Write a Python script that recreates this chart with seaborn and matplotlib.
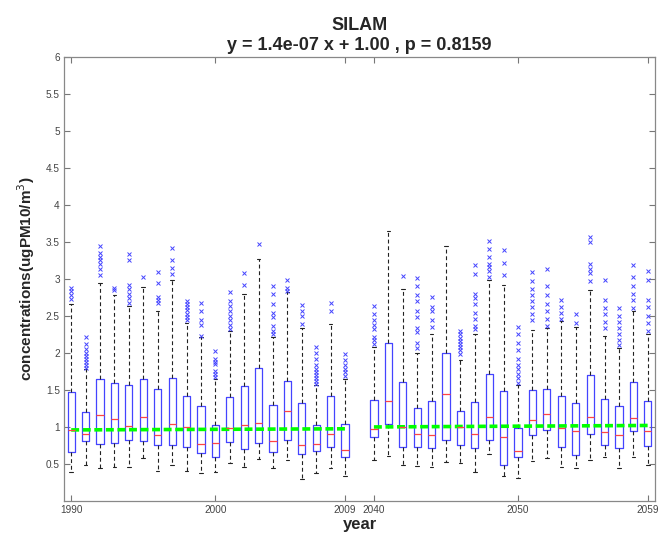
import numpy as np
import matplotlib
matplotlib.use('Agg')
import matplotlib.pyplot as plt
import seaborn as sns

# years shown (two periods, with a gap between them)
years_hist = list(range(1990, 2010))
years_fut = list(range(2040, 2060))
years = years_hist + years_fut

# box statistics (ugPM10/m3)
whis_hi = [2.66, 1.78, 2.94, 2.78, 2.64, 2.89, 2.57, 2.98, 2.40, 2.21,
           1.65, 2.29, 2.80, 3.27, 2.22, 2.82, 2.33, 1.57, 2.39, 1.65,
           2.08, 3.65, 2.86, 2.00, 2.26, 3.45, 1.90, 2.26, 2.99, 2.92,
           1.56, 2.31, 2.34, 2.43, 2.35, 2.85, 2.23, 2.06, 2.57, 2.26]
q3 = [1.47, 1.20, 1.65, 1.60, 1.56, 1.65, 1.51, 1.66, 1.42, 1.28,
      1.02, 1.40, 1.55, 1.79, 1.29, 1.62, 1.32, 1.03, 1.42, 1.04,
      1.37, 2.14, 1.61, 1.25, 1.35, 2.00, 1.22, 1.34, 1.71, 1.48,
      0.98, 1.50, 1.51, 1.42, 1.32, 1.70, 1.38, 1.28, 1.61, 1.35]
med = [0.955, 0.90, 1.16, 1.11, 1.01, 1.13, 0.89, 1.04, 1.00, 0.77,
       0.79, 0.99, 1.02, 1.06, 0.81, 1.22, 0.76, 0.77, 0.90, 0.69,
       0.97, 1.35, 1.00, 0.91, 0.89, 1.45, 1.00, 0.91, 1.14, 0.86,
       0.67, 1.10, 1.17, 0.99, 0.94, 1.14, 0.93, 0.89, 1.12, 0.95]
q1 = [0.66, 0.81, 0.77, 0.78, 0.82, 0.81, 0.75, 0.76, 0.73, 0.65,
      0.60, 0.80, 0.70, 0.78, 0.66, 0.82, 0.63, 0.68, 0.73, 0.60,
      0.86, 1.04, 0.73, 0.73, 0.71, 0.83, 0.76, 0.71, 0.83, 0.48,
      0.60, 0.89, 0.96, 0.73, 0.62, 0.90, 0.75, 0.71, 0.95, 0.74]
whis_lo = [0.39, 0.49, 0.44, 0.46, 0.46, 0.58, 0.40, 0.48, 0.41, 0.38,
           0.39, 0.51, 0.46, 0.57, 0.44, 0.55, 0.30, 0.38, 0.45, 0.34,
           0.56, 0.61, 0.49, 0.47, 0.46, 0.52, 0.51, 0.39, 0.63, 0.34,
           0.31, 0.54, 0.58, 0.46, 0.44, 0.56, 0.59, 0.45, 0.60, 0.49]
outliers = [
    [2.73, 2.78, 2.84, 2.87],
    [1.80, 1.84, 1.88, 1.92, 1.96, 2.00, 2.05, 2.12, 2.21],
    [3.05, 3.13, 3.20, 3.25, 3.30, 3.35, 3.45],
    [2.85, 2.88],
    [2.68, 2.74, 2.80, 2.86, 2.92, 3.26, 3.34],
    [3.03],
    [2.68, 2.72, 2.76, 2.95, 3.09],
    [3.07, 3.14, 3.26, 3.41],
    [2.44, 2.48, 2.52, 2.58, 2.62, 2.66, 2.70],
    [2.23, 2.38, 2.44, 2.56, 2.68],
    [1.67, 1.72, 1.75, 1.85, 1.88, 1.92, 2.02],
    [2.32, 2.38, 2.45, 2.50, 2.56, 2.63, 2.70, 2.82],
    [2.92, 3.08],
    [3.47],
    [2.26, 2.30, 2.36, 2.48, 2.54, 2.66, 2.80, 2.91],
    [2.84, 2.88, 2.98],
    [2.39, 2.50, 2.57, 2.65],
    [1.58, 1.62, 1.66, 1.70, 1.74, 1.78, 1.84, 1.92, 2.00, 2.08],
    [2.57, 2.68],
    [1.69, 1.74, 1.78, 1.84, 1.90, 1.98],
    [2.12, 2.18, 2.22, 2.32, 2.38, 2.45, 2.52, 2.63],
    [],
    [3.04],
    [2.07, 2.14, 2.28, 2.34, 2.48, 2.56, 2.70, 2.78, 2.90, 3.01],
    [2.35, 2.45, 2.56, 2.62, 2.75],
    [],
    [1.99, 2.04, 2.08, 2.12, 2.16, 2.20, 2.25, 2.30],
    [2.32, 2.36, 2.46, 2.54, 2.66, 2.74, 2.80, 3.06, 3.19],
    [3.02, 3.10, 3.16, 3.20, 3.30, 3.40, 3.51],
    [3.05, 3.22, 3.39],
    [1.60, 1.66, 1.72, 1.78, 1.84, 1.92, 2.04, 2.14, 2.25, 2.35],
    [2.44, 2.52, 2.62, 2.70, 2.78, 2.86, 2.97, 3.09],
    [2.37, 2.46, 2.56, 2.66, 2.78, 2.90, 3.13],
    [2.46, 2.54, 2.62, 2.71],
    [2.40, 2.53],
    [2.97, 3.08, 3.13, 3.20, 3.50, 3.57],
    [2.33, 2.42, 2.52, 2.60, 2.72, 2.99],
    [2.10, 2.18, 2.26, 2.34, 2.42, 2.50, 2.61],
    [2.61, 2.72, 2.80, 2.90, 3.02, 3.19],
    [2.30, 2.40, 2.50, 2.62, 2.72, 2.98, 3.10],
]

# trend line ends for each period
trend_hist = [0.96, 0.975]
trend_fut = [1.00, 1.02]

tick_years = [1990, 2000, 2009, 2040, 2050, 2059]

# positions: one slot per year, one empty slot between the periods
pos = np.r_[np.arange(1, 21), np.arange(22, 42)]
pos_of = dict(zip(years, pos))

sns.set_style('white')
plt.rcParams['font.family'] = ['Liberation Sans', 'DejaVu Sans']

fig, ax = plt.subplots(figsize=(6.61, 5.4), dpi=100)
fig.subplots_adjust(left=64/661, right=655/661, top=1-56.7/540, bottom=1-501/540)

stats = []
for i in range(len(years)):
    stats.append(dict(med=med[i], q1=q1[i], q3=q3[i],
                      whislo=whis_lo[i], whishi=whis_hi[i],
                      fliers=outliers[i]))

ax.bxp(stats, positions=pos, widths=0.5, capwidths=0.25,
       boxprops=dict(color='#4444ff', lw=0.9),
       medianprops=dict(color='#ff4444', lw=0.9),
       whiskerprops=dict(color='#222222', lw=0.8, linestyle=(0, (3.5, 2.5))),
       capprops=dict(color='#222222', lw=0.8),
       flierprops=dict(marker='x', markeredgecolor='#4444ff', markersize=3.5,
                       markeredgewidth=0.7, linestyle='none'),
       manage_ticks=False)

# linear trend, one segment per period
sns.lineplot(x=[pos_of[years_hist[0]], pos_of[years_hist[-1]]], y=trend_hist,
             ax=ax, color='#00ff00', lw=2.6)
sns.lineplot(x=[pos_of[years_fut[0]], pos_of[years_fut[-1]]], y=trend_fut,
             ax=ax, color='#00ff00', lw=2.6)
for l in ax.lines[-2:]:
    l.set_linestyle((0, (2.2, 1.0)))

ax.set_xlim(0.5, 41.5)
ax.set_ylim(0, 6)
ax.set_yticks(np.arange(0.5, 6.01, 0.5))
ax.set_yticklabels(['0.5', '1', '1.5', '2', '2.5', '3', '3.5', '4', '4.5', '5', '5.5', '6'])
ax.set_xticks([pos_of[y] for y in tick_years])
ax.set_xticklabels([str(y) for y in tick_years])

ax.tick_params(direction='in', length=4, width=0.8, color='#777777',
               labelsize=7.2, labelcolor='#444444', top=True, right=True,
               bottom=True, left=True, pad=3)
for s in ax.spines.values():
    s.set_visible(True)
    s.set_color('#888888')
    s.set_linewidth(0.9)

ax.set_xlabel('year', fontsize=12, fontweight='bold', labelpad=1)
ax.set_ylabel('concentrations(ugPM10/m$^3$)', fontsize=11, fontweight='bold', labelpad=6)
ax.set_title('SILAM\ny = 1.4e-07 x + 1.00 , p = 0.8159', fontsize=13,
             fontweight='bold', pad=5, linespacing=1.2)

fig.savefig('out.png', dpi=100)
